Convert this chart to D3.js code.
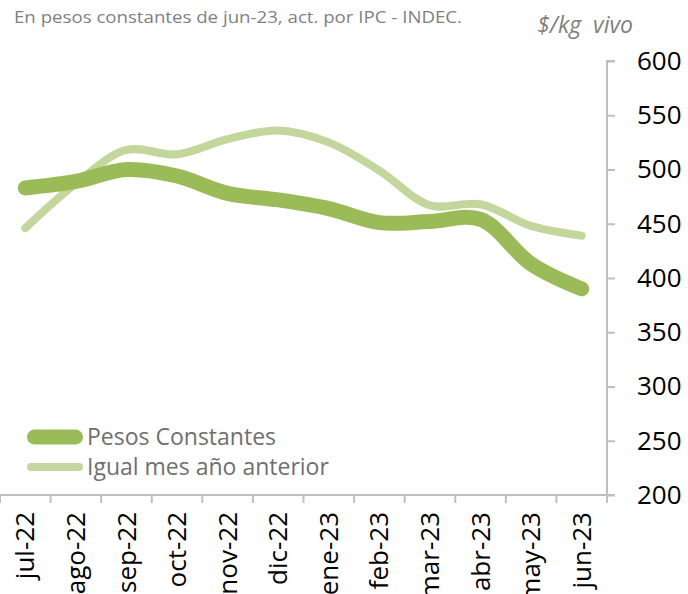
<!DOCTYPE html>
<html>
<head>
<meta charset="utf-8">
<script src="https://cdn.jsdelivr.net/npm/d3@7"></script>
<style>
  body { margin: 0; background: #fff; }
  svg { display: block; }
</style>
</head>
<body>
<svg id="chart" width="688" height="594"></svg>
<script>
// Months on the category axis
const months = ['jul-22', 'ago-22', 'sep-22', 'oct-22', 'nov-22', 'dic-22',
                'ene-23', 'feb-23', 'mar-23', 'abr-23', 'may-23', 'jun-23'];

// $/kg vivo
const pesosConstantes = [483, 489, 500, 494, 478, 472, 464, 451, 452, 454, 413, 390];
const igualMesAnterior = [446, 487, 518, 514, 528, 536, 525, 499, 467, 468, 448, 439];

const yTicks = [200, 250, 300, 350, 400, 450, 500, 550, 600];

const seriesNames = ['Pesos Constantes', 'Igual mes año anterior'];

const svg = d3.select('#chart');
const font = 'Open Sans, sans-serif';
const axisColor = '#bfbfbf';
const darkGreen = '#9bbb59';
const lightGreen = '#c3d69b';

// Plot area: the value axis sits on the right edge
const plotLeft = 0;
const plotRight = 607;
const plotTop = 61;
const plotBottom = 495;

const x = d3.scaleBand()
    .domain(months)
    .range([plotLeft, plotRight]);

const y = d3.scaleLinear()
    .domain([200, 600])
    .range([plotBottom, plotTop]);

// Subtitle and unit
svg.append('text')
    .attr('x', 14)
    .attr('y', 23)
    .attr('font-family', font)
    .attr('font-size', 16)
    .attr('textLength', 448)
    .attr('lengthAdjust', 'spacingAndGlyphs')
    .attr('fill', '#7f7f7f')
    .text('En pesos constantes de jun-23, act. por IPC - INDEC.');

svg.append('text')
    .attr('x', 633)
    .attr('y', 33)
    .attr('text-anchor', 'end')
    .attr('font-family', font)
    .attr('font-style', 'italic')
    .attr('font-size', 23)
    .attr('fill', '#7f7f7f')
    .style('white-space', 'pre')
    .text('$/kg  vivo');

// Right value axis
const yAxis = svg.append('g')
    .attr('transform', 'translate(' + plotRight + ',0)')
    .call(d3.axisRight(y).tickValues(yTicks).tickSize(8).tickPadding(22));
yAxis.select('.domain').attr('stroke', axisColor).attr('stroke-width', 2)
    .attr('d', 'M8,' + plotTop + 'H0V' + plotBottom);
yAxis.selectAll('.tick line').attr('stroke', axisColor).attr('stroke-width', 2);
yAxis.selectAll('.tick text')
    .attr('font-family', font)
    .attr('font-size', 26)
    .attr('fill', '#000');

// Bottom category axis: labels centred on bands, ticks between bands
const xAxis = svg.append('g')
    .attr('transform', 'translate(0,' + plotBottom + ')')
    .call(d3.axisBottom(x).tickSize(0).tickPadding(0));
xAxis.select('.domain').remove();
xAxis.selectAll('.tick text')
    .attr('font-family', font)
    .attr('font-size', 26)
    .attr('fill', '#000')
    .attr('text-anchor', 'end')
    .attr('dy', '0.35em')
    .attr('transform', 'translate(0,17) rotate(-90)');

xAxis.append('line')
    .attr('x1', plotLeft)
    .attr('x2', plotRight + 8)
    .attr('stroke', axisColor)
    .attr('stroke-width', 2);

const boundaries = d3.range(months.length + 1).map(i => plotLeft + i * x.step());
xAxis.selectAll('.boundary')
    .data(boundaries)
    .join('line')
    .attr('class', 'boundary')
    .attr('x1', d => d)
    .attr('x2', d => d)
    .attr('y1', 0)
    .attr('y2', 8)
    .attr('stroke', axisColor)
    .attr('stroke-width', 2);

// Smoothed lines, like Excel's
const line = d3.line()
    .x((d, i) => x(months[i]) + x.bandwidth() / 2)
    .y(d => y(d))
    .curve(d3.curveCatmullRom.alpha(0.5));

svg.append('path')
    .datum(igualMesAnterior)
    .attr('d', line)
    .attr('fill', 'none')
    .attr('stroke', lightGreen)
    .attr('stroke-width', 8)
    .attr('stroke-linecap', 'round')
    .attr('stroke-linejoin', 'round');

svg.append('path')
    .datum(pesosConstantes)
    .attr('d', line)
    .attr('fill', 'none')
    .attr('stroke', darkGreen)
    .attr('stroke-width', 15)
    .attr('stroke-linecap', 'round')
    .attr('stroke-linejoin', 'round');

// Legend: both swatches span the same width, caps included
const legendColors = [darkGreen, lightGreen];
const legendWidths = [15, 8];
const legend = svg.append('g')
    .attr('transform', 'translate(27,437)');
const legendItem = legend.selectAll('g')
    .data(seriesNames)
    .join('g')
    .attr('transform', (d, i) => 'translate(0,' + (i * 30) + ')');
legendItem.append('line')
    .attr('x1', (d, i) => legendWidths[i] / 2)
    .attr('x2', (d, i) => 56 - legendWidths[i] / 2)
    .attr('stroke', (d, i) => legendColors[i])
    .attr('stroke-width', (d, i) => legendWidths[i])
    .attr('stroke-linecap', 'round');
legendItem.append('text')
    .attr('x', 60)
    .attr('dy', '0.35em')
    .attr('font-family', font)
    .attr('font-size', 23)
    .attr('fill', '#6f6f6f')
    .text(d => d);
</script>
</body>
</html>
